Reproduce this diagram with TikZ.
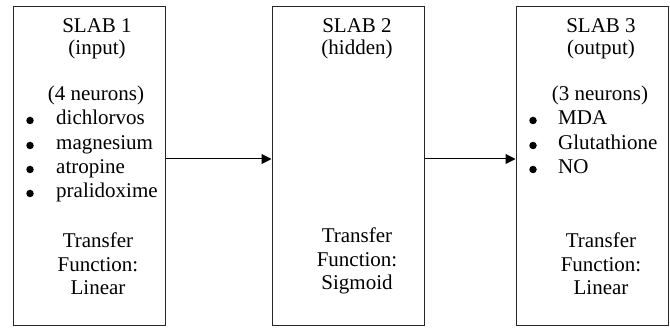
\documentclass[tikz,border=0pt]{standalone}
\usepackage{fontspec}
\setmainfont{Liberation Serif}
\usetikzlibrary{arrows.meta}
\begin{document}
\begin{tikzpicture}[x=1pt,y=-1pt,
  slab/.style={draw=black!85, line width=1pt, minimum width=152pt, minimum height=319pt, inner sep=0pt},
  txt/.style={anchor=base, inner sep=0pt, font=\rmfamily\fontsize{21}{24}\selectfont},
  item/.style={anchor=base west, inner sep=0pt, font=\rmfamily\fontsize{21}{24}\selectfont},
  dot/.style={circle, fill=black, inner sep=0pt, minimum size=7.5pt},
  link/.style={line width=1pt, -{Triangle[length=10pt,width=10pt]}}]
\useasboundingbox (0,0) rectangle (670,328);

% the three slabs
\node[slab] (s1) at (89,166.5) {};
\node[slab] (s2) at (348,166.5) {};
\node[slab] (s3) at (592,166.5) {};

% slab 1: input layer
\node[txt] (s1a) at (97,33) {SLAB 1};
\node[txt] (s1b) at (97,55) {(input)};
\node[txt] (s1c) at (96,101) {(4 neurons)};
\node[dot] (s1d1) at (30,120.5) {};
\node[item] (s1i1) at (56,125) {dichlorvos};
\node[dot] (s1d2) at (30,145.5) {};
\node[item] (s1i2) at (56,150) {magnesium};
\node[dot] (s1d3) at (30,169.5) {};
\node[item] (s1i3) at (56,174) {atropine};
\node[dot] (s1d4) at (30,193.5) {};
\node[item] (s1i4) at (56,198) {pralidoxime};
\node[txt] (s1t1) at (98,248) {Transfer};
\node[txt] (s1t2) at (98,272) {Function:};
\node[txt] (s1t3) at (98,295) {Linear};

% slab 2: hidden layer
\node[txt] (s2a) at (357,33) {SLAB 2};
\node[txt] (s2b) at (357,55) {(hidden)};
\node[txt] (s2t1) at (357,243) {Transfer};
\node[txt] (s2t2) at (357,267) {Function:};
\node[txt] (s2t3) at (357,290) {Sigmoid};

% slab 3: output layer
\node[txt] (s3a) at (601,33) {SLAB 3};
\node[txt] (s3b) at (601,55) {(output)};
\node[txt] (s3c) at (600,101) {(3 neurons)};
\node[dot] (s3d1) at (533,120.5) {};
\node[item] (s3i1) at (558,125) {MDA};
\node[dot] (s3d2) at (533,145.5) {};
\node[item] (s3i2) at (558,150) {Glutathione};
\node[dot] (s3d3) at (533,169.5) {};
\node[item] (s3i3) at (558,174) {NO};
\node[txt] (s3t1) at (601,248) {Transfer};
\node[txt] (s3t2) at (601,272) {Function:};
\node[txt] (s3t3) at (601,295) {Linear};

% connections between slabs
\draw[link] ([yshift=7.5pt]s1.east) -- ([yshift=7.5pt]s2.west);
\draw[link] ([yshift=7.5pt]s2.east) -- ([yshift=7.5pt]s3.west);
\end{tikzpicture}
\end{document}
